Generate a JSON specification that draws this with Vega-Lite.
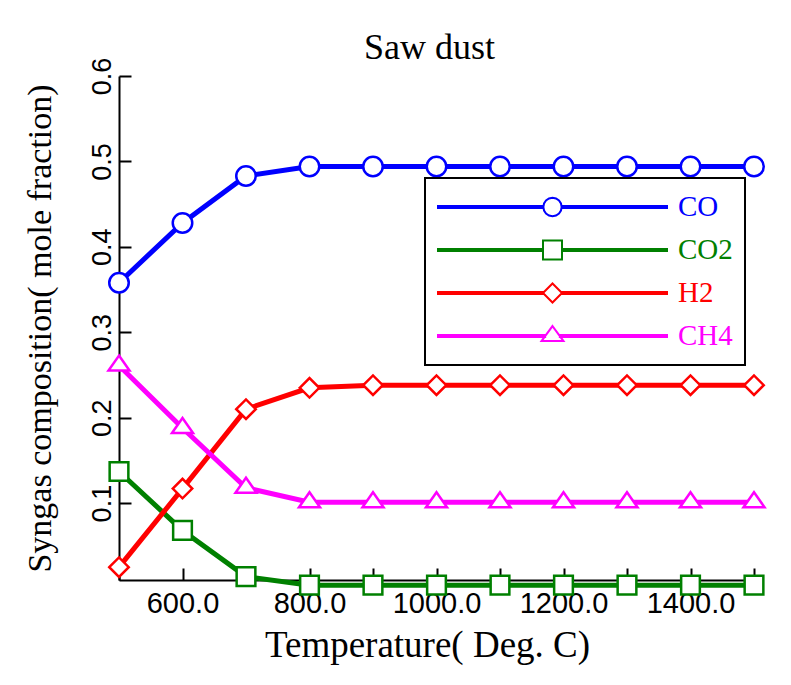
{
  "$schema": "https://vega.github.io/schema/vega-lite/v6.json",
  "width": 635,
  "height": 504,
  "autosize": "none",
  "padding": {"left": 119, "top": 76, "right": 37, "bottom": 105},
  "background": "white",
  "title": {
    "text": "Saw dust",
    "font": "Liberation Serif",
    "fontSize": 36,
    "fontWeight": "normal",
    "color": "black",
    "baseline": "alphabetic",
    "frame": "group",
    "offset": 18,
    "dx": -7,
    "dy": 56,
    "anchor": "middle"
  },
  "config": {
    "view": {"stroke": null},
    "axis": {
      "grid": false,
      "domainColor": "black",
      "domainWidth": 2,
      "tickColor": "black",
      "tickWidth": 2,
      "tickSize": -12,
      "labelColor": "black",
      "labelFont": "Liberation Sans",
      "titleFont": "Liberation Serif",
      "titleFontWeight": "normal",
      "titleColor": "black"
    }
  },
  "data": {
    "values": [
      {"temp": 500, "gas": "CO", "frac": 0.358},
      {"temp": 600, "gas": "CO", "frac": 0.428},
      {"temp": 700, "gas": "CO", "frac": 0.483},
      {"temp": 800, "gas": "CO", "frac": 0.494},
      {"temp": 900, "gas": "CO", "frac": 0.494},
      {"temp": 1000, "gas": "CO", "frac": 0.494},
      {"temp": 1100, "gas": "CO", "frac": 0.494},
      {"temp": 1200, "gas": "CO", "frac": 0.494},
      {"temp": 1300, "gas": "CO", "frac": 0.494},
      {"temp": 1400, "gas": "CO", "frac": 0.494},
      {"temp": 1500, "gas": "CO", "frac": 0.494},
      {"temp": 500, "gas": "CO2", "frac": 0.137},
      {"temp": 600, "gas": "CO2", "frac": 0.068},
      {"temp": 700, "gas": "CO2", "frac": 0.014},
      {"temp": 800, "gas": "CO2", "frac": 0.004},
      {"temp": 900, "gas": "CO2", "frac": 0.004},
      {"temp": 1000, "gas": "CO2", "frac": 0.004},
      {"temp": 1100, "gas": "CO2", "frac": 0.004},
      {"temp": 1200, "gas": "CO2", "frac": 0.004},
      {"temp": 1300, "gas": "CO2", "frac": 0.004},
      {"temp": 1400, "gas": "CO2", "frac": 0.004},
      {"temp": 1500, "gas": "CO2", "frac": 0.004},
      {"temp": 500, "gas": "H2", "frac": 0.025},
      {"temp": 600, "gas": "H2", "frac": 0.117},
      {"temp": 700, "gas": "H2", "frac": 0.210},
      {"temp": 800, "gas": "H2", "frac": 0.235},
      {"temp": 900, "gas": "H2", "frac": 0.238},
      {"temp": 1000, "gas": "H2", "frac": 0.238},
      {"temp": 1100, "gas": "H2", "frac": 0.238},
      {"temp": 1200, "gas": "H2", "frac": 0.238},
      {"temp": 1300, "gas": "H2", "frac": 0.238},
      {"temp": 1400, "gas": "H2", "frac": 0.238},
      {"temp": 1500, "gas": "H2", "frac": 0.238},
      {"temp": 500, "gas": "CH4", "frac": 0.261},
      {"temp": 600, "gas": "CH4", "frac": 0.188},
      {"temp": 700, "gas": "CH4", "frac": 0.118},
      {"temp": 800, "gas": "CH4", "frac": 0.101},
      {"temp": 900, "gas": "CH4", "frac": 0.101},
      {"temp": 1000, "gas": "CH4", "frac": 0.101},
      {"temp": 1100, "gas": "CH4", "frac": 0.101},
      {"temp": 1200, "gas": "CH4", "frac": 0.101},
      {"temp": 1300, "gas": "CH4", "frac": 0.101},
      {"temp": 1400, "gas": "CH4", "frac": 0.101},
      {"temp": 1500, "gas": "CH4", "frac": 0.101}
    ]
  },
  "encoding": {
    "x": {
      "field": "temp",
      "type": "quantitative",
      "scale": {"domain": [500, 1500], "nice": false, "zero": false},
      "axis": {
        "values": [500, 600, 700, 800, 900, 1000, 1100, 1200, 1300, 1400, 1500],
        "format": ".1f",
        "labelExpr": "datum.value % 200 == 0 ? datum.label : ''",
        "labelFontSize": 29,
        "labelBaseline": "alphabetic",
        "labelPadding": 44,
        "labelFlush": false,
        "labelOverlap": false,
        "title": "Temperature( Deg. C)",
        "titleFontSize": 37,
        "titleX": 308,
        "titleY": 76,
        "titleBaseline": "alphabetic",
        "titleAlign": "center"
      }
    },
    "y": {
      "field": "frac",
      "type": "quantitative",
      "scale": {"domain": [0.01, 0.6], "nice": false, "zero": false},
      "axis": {
        "values": [0.1, 0.2, 0.3, 0.4, 0.5, 0.6],
        "format": ".1f",
        "labelAngle": -90,
        "labelAlign": "center",
        "labelBaseline": "alphabetic",
        "labelFontSize": 27,
        "labelPadding": 21,
        "labelFlush": false,
        "labelOverlap": false,
        "title": "Syngas composition( mole fraction)",
        "titleFontSize": 34,
        "titleAngle": -90,
        "titleX": -69,
        "titleY": 252,
        "titleBaseline": "alphabetic",
        "titleAlign": "center"
      }
    },
    "color": {
      "field": "gas",
      "type": "nominal",
      "scale": {"domain": ["CO", "CO2", "H2", "CH4"], "range": ["#0000ff", "#008000", "#ff0000", "#ff00ff"]},
      "legend": {
        "title": null,
        "orient": "none",
        "legendX": 306,
        "legendY": 102,
        "padding": 12,
        "strokeColor": "black",
        "fillColor": "white",
        "symbolSize": 52441,
        "symbolStrokeWidth": 2,
        "symbolFillColor": "white",
        "clipHeight": 34,
        "rowPadding": 9,
        "labelOffset": 10,
        "labelFont": "Liberation Serif",
        "labelFontSize": 29,
        "labelLimit": 0,
        "encode": {
          "legend": {"update": {"strokeWidth": {"value": 2}}},
          "symbols": {
            "update": {
              "shape": {"signal": "datum.value === 'CO' ? 'M-1,-0.0087L-0.08,-0.0087L-0.08,0.0087L-1,0.0087ZM0.08,-0.0087L1,-0.0087L1,0.0087L0.08,0.0087ZM0.08,0L0.0739,0.0306L0.0566,0.0566L0.0306,0.0739L0,0.08L-0.0306,0.0739L-0.0566,0.0566L-0.0739,0.0306L-0.08,0L-0.0739,-0.0306L-0.0566,-0.0566L-0.0306,-0.0739L0,-0.08L0.0306,-0.0739L0.0566,-0.0566L0.0739,-0.0306Z' : datum.value === 'CO2' ? 'M-1,-0.0087L-0.083,-0.0087L-0.083,0.0087L-1,0.0087ZM0.083,-0.0087L1,-0.0087L1,0.0087L0.083,0.0087ZM-0.083,-0.083L0.083,-0.083L0.083,0.083L-0.083,0.083Z' : datum.value === 'H2' ? 'M-1,-0.0087L-0.083,-0.0087L-0.083,0.0087L-1,0.0087ZM0.083,-0.0087L1,-0.0087L1,0.0087L0.083,0.0087ZM-0.083,0L0,-0.083L0.083,0L0,0.083Z' : 'M-1,-0.0087L-0.064,-0.0087L-0.064,0.0087L-1,0.0087ZM0.064,-0.0087L1,-0.0087L1,0.0087L0.064,0.0087ZM0,-0.087L0.096,0.044L-0.096,0.044Z'"},
              "fill": {"value": "white"},
              "stroke": {"scale": "color", "field": "value"},
              "strokeWidth": {"value": 2},
              "opacity": {"value": 1}
            }
          },
          "labels": {
            "update": {"fill": {"scale": "color", "field": "value"}}
          }
        }
      }
    }
  },
  "layer": [
    {
      "mark": {"type": "line", "strokeWidth": 5}
    },
    {
      "transform": [{"filter": "datum.gas === 'CO'"}],
      "mark": {"type": "point", "shape": "circle", "size": 380, "filled": false, "fill": "white", "fillOpacity": 1, "opacity": 1, "strokeWidth": 2.5}
    },
    {
      "transform": [{"filter": "datum.gas === 'CO2'"}],
      "mark": {"type": "point", "shape": "square", "size": 350, "filled": false, "fill": "white", "fillOpacity": 1, "opacity": 1, "strokeWidth": 2.5}
    },
    {
      "transform": [{"filter": "datum.gas === 'H2'"}],
      "mark": {"type": "point", "shape": "diamond", "size": 380, "filled": false, "fill": "white", "fillOpacity": 1, "opacity": 1, "strokeWidth": 2.5}
    },
    {
      "transform": [{"filter": "datum.gas === 'CH4'"}],
      "mark": {"type": "point", "shape": "M0,-1L1.05,0.5L-1.05,0.5Z", "size": 400, "filled": false, "fill": "white", "fillOpacity": 1, "opacity": 1, "strokeWidth": 2.5}
    }
  ]
}
